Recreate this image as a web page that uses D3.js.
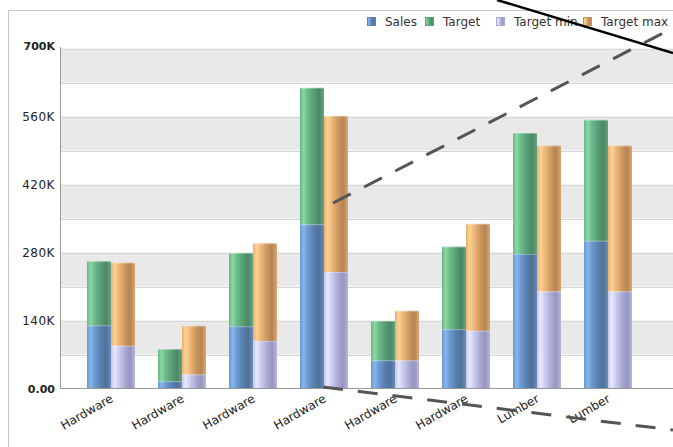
<!DOCTYPE html>
<html>
<head>
<meta charset="utf-8">
<script src="https://cdn.jsdelivr.net/npm/d3@7"></script>
<style>
  html, body { margin: 0; padding: 0; background: #fff; }
  svg { display: block; }
</style>
</head>
<body>
<svg id="chart" width="673" height="447"></svg>
<script>
// ---- data ----
const categories = ["Hardware","Hardware","Hardware","Hardware","Hardware","Hardware","Lumber","Lumber"];
const sales      = [130000, 15000, 128000, 338000, 58000, 122000, 277000, 304000];
const target     = [132000, 66000, 151000, 281000, 81000, 170000, 249000, 249000];
const targetMin  = [ 88000, 29000,  98000, 240000, 58000, 119000, 200000, 200000];
const targetMax  = [171000,100000, 201000, 321000,102000, 220000, 300000, 300000];
const seriesNames = ["Sales", "Target", "Target min", "Target max"];
const yTickValues = [0, 140000, 280000, 420000, 560000, 700000];
const yTickLabels = ["0.00", "140K", "280K", "420K", "560K", "700K"];

// ---- setup ----
const svg = d3.select("#chart");
const W = 673, H = 447;
const plotLeft = 60, plotRight = 680;

const y = d3.scaleLinear().domain([0, 700000]).range([388.5, 48.5]);
const x = d3.scaleBand().domain(d3.range(categories.length))
  .range([60, 659]).paddingInner(0.324).paddingOuter(0.38);
const xi = d3.scaleBand().domain([0, 1]).range([0, x.bandwidth()]);

const rows = categories.map((c, i) => ({
  i, sales: sales[i], target: target[i], targetMin: targetMin[i], targetMax: targetMax[i]
}));

// gradients (cylinder look)
const defs = svg.append("defs");
const palettes = {
  sales:     ["#6797cf", "#87b6ec", "#6b9bd2", "#5880ae", "#507194", "#668dbd"],
  target:    ["#66b584", "#8ed6a6", "#6bbc8a", "#589d75", "#4d8766", "#63a480"],
  targetMin: ["#c4c4ec", "#e8e8ff", "#cdcdf2", "#aaaad5", "#9595bf", "#b5b5e0"],
  targetMax: ["#e8ae6e", "#fdd195", "#f0b97a", "#cd9860", "#b58454", "#dda86e"]
};
const stops = [0, 0.15, 0.32, 0.58, 0.8, 1];
Object.entries(palettes).forEach(([k, cols]) => {
  const g = defs.append("linearGradient").attr("id", "g-" + k)
    .attr("x1", "0%").attr("x2", "100%").attr("y1", "0%").attr("y2", "0%");
  cols.forEach((c, j) => g.append("stop").attr("offset", stops[j]).attr("stop-color", c));
});
const edge = { sales: "#5b82b0", target: "#5a9e76", targetMin: "#a8a8d4", targetMax: "#c9955d" };

// outer frame
svg.append("line").attr("x1", 8.5).attr("x2", 8.5).attr("y1", 10.5).attr("y2", H)
  .attr("stroke", "#c8c8c8");
svg.append("line").attr("x1", 8.5).attr("x2", W).attr("y1", 10.5).attr("y2", 10.5)
  .attr("stroke", "#c8c8c8");

// background bands
const bandTops = d3.range(140000, 700001, 140000);
svg.append("g").selectAll("rect").data(bandTops).join("rect")
  .attr("x", plotLeft).attr("width", plotRight - plotLeft)
  .attr("y", d => y(d)).attr("height", d => y(d - 70000) - y(d))
  .attr("fill", "#e9e9e9");
svg.append("g").selectAll("line").data(d3.range(70000, 700001, 70000)).join("line")
  .attr("x1", plotLeft).attr("x2", plotRight)
  .attr("y1", d => Math.round(y(d)) + 0.5).attr("y2", d => Math.round(y(d)) + 0.5)
  .attr("stroke", "#d6d6d6");

// bars
const leftStack = d3.stack().keys(["sales", "target"])(rows);
const rightStack = d3.stack().keys(["targetMin", "targetMax"])(rows);
function drawStack(stack, sub) {
  stack.forEach(layer => {
    svg.append("g").selectAll("rect").data(layer).join("rect")
      .attr("x", d => x(d.data.i) + xi(sub))
      .attr("width", xi.bandwidth())
      .attr("y", d => y(d[1]))
      .attr("height", d => y(d[0]) - y(d[1]))
      .attr("fill", "url(#g-" + layer.key + ")");
    svg.append("g").selectAll("line").data(layer).join("line")
      .attr("x1", d => x(d.data.i) + xi(sub)).attr("x2", d => x(d.data.i) + xi(sub) + xi.bandwidth())
      .attr("y1", d => y(d[1]) + 0.5).attr("y2", d => y(d[1]) + 0.5)
      .attr("stroke", "#ffffff").attr("stroke-opacity", 0.3);
  });
}
drawStack(leftStack, 0);
drawStack(rightStack, 1);

// axes
const yAxis = svg.append("g").attr("transform", `translate(${plotLeft},0)`)
  .call(d3.axisLeft(y).tickValues(yTickValues)
    .tickFormat((d, i) => yTickLabels[i]).tickSize(0).tickPadding(5));
yAxis.select(".domain").remove();
yAxis.selectAll("text")
  .attr("font-family", "'DejaVu Sans', Verdana, sans-serif")
  .attr("fill", "#222")
  .attr("font-size", (d, i) => (i === 0 || i === yTickValues.length - 1) ? 11 : 12)
  .attr("font-weight", (d, i) => (i === 0 || i === yTickValues.length - 1) ? "bold" : "normal")
  .attr("letter-spacing", (d, i) => (i === 0 || i === yTickValues.length - 1) ? 0 : 0.5)
  .attr("dy", (d, i) => i === yTickValues.length - 1 ? "0.12em" : "0.35em");

svg.append("line").attr("x1", plotLeft + 0.5).attr("x2", plotLeft + 0.5)
  .attr("y1", 47).attr("y2", 389).attr("stroke", "#9a9a9a");
svg.append("line").attr("x1", plotLeft).attr("x2", W)
  .attr("y1", 388.5).attr("y2", 388.5).attr("stroke", "#9a9a9a");

const xAxis = svg.append("g").attr("transform", "translate(0,388)")
  .call(d3.axisBottom(x).tickFormat(i => categories[i]).tickSize(0));
xAxis.select(".domain").remove();
xAxis.selectAll("text")
  .attr("font-family", "'DejaVu Sans', Tahoma, sans-serif")
  .attr("font-size", 12).attr("fill", "#222")
  .attr("text-anchor", "end")
  .attr("dy", 0).attr("y", 0)
  .attr("transform", "translate(3,13) rotate(-30)");

// legend
const legendX = [367, 425, 496, 583];
const legendKeys = ["sales", "target", "targetMin", "targetMax"];
const lg = svg.append("g");
seriesNames.forEach((name, j) => {
  lg.append("rect").attr("x", legendX[j] + 0.5).attr("y", 17.5).attr("width", 8).attr("height", 8)
    .attr("fill", "url(#g-" + legendKeys[j] + ")").attr("stroke", edge[legendKeys[j]]);
  lg.append("text").attr("x", legendX[j] + 18).attr("y", 26)
    .attr("font-family", "'DejaVu Sans', Tahoma, sans-serif").attr("font-size", 12)
    .attr("fill", "#333").text(name);
});

// overlay strokes
svg.append("line").attr("x1", 497).attr("y1", 0).attr("x2", 673).attr("y2", 53)
  .attr("stroke", "#000").attr("stroke-width", 2.5);
svg.append("line").attr("x1", 333).attr("y1", 203).attr("x2", 673).attr("y2", 28)
  .attr("stroke", "#555").attr("stroke-width", 3).attr("stroke-dasharray", "20,15");
svg.append("line").attr("x1", 323).attr("y1", 387).attr("x2", 673).attr("y2", 430)
  .attr("stroke", "#555").attr("stroke-width", 3).attr("stroke-dasharray", "20,15");
</script>
</body>
</html>
